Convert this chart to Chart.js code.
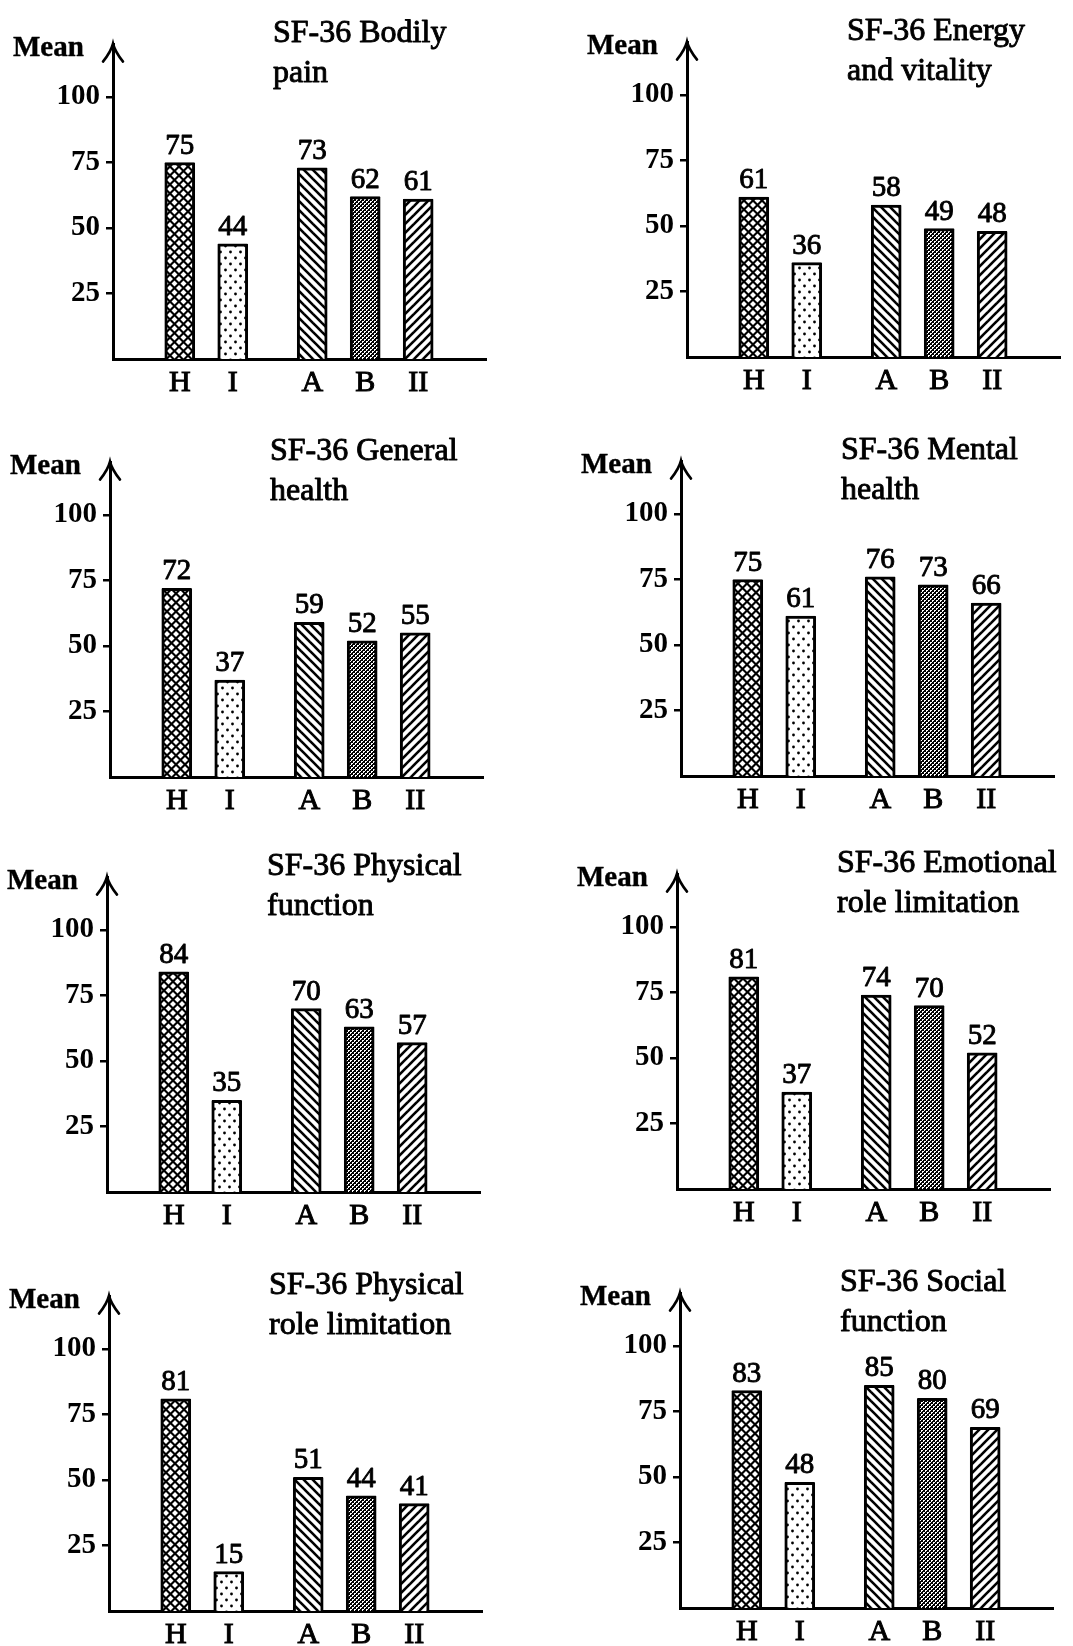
<!DOCTYPE html>
<html>
<head>
<meta charset="utf-8">
<script src="https://cdn.jsdelivr.net/npm/chart.js@4.4.1/dist/chart.umd.min.js"></script>
<style>
  html, body { margin: 0; padding: 0; background: #fff; }
  body { position: relative; width: 1073px; height: 1646px; overflow: hidden; }
  canvas { position: absolute; }
</style>
</head>
<body>
<script>
// groups on the x axis, and the y ticks
const groups = ["H", "I", "A", "B", "II"];
const yTicks = [25, 50, 75, 100];

// mean score per group, one array per SF-36 scale
const bodilyPain       = [75, 44, 73, 62, 61];
const energyVitality   = [61, 36, 58, 49, 48];
const generalHealth    = [72, 37, 59, 52, 55];
const mentalHealth     = [75, 61, 76, 73, 66];
const physicalFunction = [84, 35, 70, 63, 57];
const emotionalRole    = [81, 37, 74, 70, 52];
const physicalRole     = [81, 15, 51, 44, 41];
const socialFunction   = [83, 48, 85, 80, 69];

const panels = [
  { title: ["SF-36 Bodily", "pain"], values: bodilyPain },
  { title: ["SF-36 Energy", "and vitality"], values: energyVitality },
  { title: ["SF-36 General", "health"], values: generalHealth },
  { title: ["SF-36 Mental", "health"], values: mentalHealth },
  { title: ["SF-36 Physical", "function"], values: physicalFunction },
  { title: ["SF-36 Emotional", "role limitation"], values: emotionalRole },
  { title: ["SF-36 Physical", "role limitation"], values: physicalRole },
  { title: ["SF-36 Social", "function"], values: socialFunction },
];

// H, I | A, B, II : half a slot of extra space between the two groups
const slots = [0, 1, 2.5, 3.5, 4.5];

// where each panel's axis corner (y axis x, baseline y) sits on the page
const origins = [
  [113, 359], [687, 357],
  [110, 777], [681, 776],
  [107, 1192], [677, 1189],
  [109, 1611], [680, 1608],
];

const W = 500, H = 395;
const AXIS_LEFT = 105;   // canvas x of the y axis
const BASE = 350;        // canvas y of the x axis
const SERIF = '"Liberation Serif", "DejaVu Serif", serif';

function tile(ctx, w, h, draw) {
  const c = document.createElement("canvas");
  c.width = w; c.height = h;
  const g = c.getContext("2d");
  draw(g, w, h);
  return ctx.createPattern(c, "repeat");
}

function makePatterns(ctx) {
  // H: black with white diamonds (cross hatch)
  const cross = tile(ctx, 9, 9, (g, w, h) => {
    g.fillStyle = "#000"; g.fillRect(0, 0, w, h);
    g.fillStyle = "#fff";
    const r = 3.0;
    [[4.5, 4.5], [0, 0], [9, 0], [0, 9], [9, 9]].forEach(([cx, cy]) => {
      g.beginPath();
      g.moveTo(cx, cy - r); g.lineTo(cx + r, cy); g.lineTo(cx, cy + r); g.lineTo(cx - r, cy);
      g.closePath(); g.fill();
    });
  });
  // I: sparse dots
  const dots = tile(ctx, 10, 12, (g, w, h) => {
    g.fillStyle = "#fff"; g.fillRect(0, 0, w, h);
    g.fillStyle = "#000";
    [[2.5, 3], [7.5, 9]].forEach(([cx, cy]) => {
      g.beginPath(); g.arc(cx, cy, 1.4, 0, Math.PI * 2); g.fill();
    });
  });
  // A: "\" stripes, II: "/" stripes
  const stripe = (back) => tile(ctx, 9, 9, (g, w, h) => {
    g.fillStyle = "#fff"; g.fillRect(0, 0, w, h);
    g.strokeStyle = "#000"; g.lineWidth = 2.6;
    for (let k = -1; k <= 1; k++) {
      g.beginPath();
      if (back) { g.moveTo(k * w - 2, -2); g.lineTo(k * w + w + 2, h + 2); }
      else { g.moveTo(k * w - 2, h + 2); g.lineTo(k * w + w + 2, -2); }
      g.stroke();
    }
  });
  // B: fine checker stipple
  const fine = tile(ctx, 4, 4, (g, w, h) => {
    g.fillStyle = "#000"; g.fillRect(0, 0, w, h);
    g.fillStyle = "#fff";
    g.fillRect(2, 0, 2, 2);
    g.fillRect(0, 2, 2, 2);
    g.fillStyle = "#000";
    g.fillRect(3, 1, 1, 1);
    g.fillRect(1, 3, 1, 1);
  });
  return [cross, dots, stripe(true), fine, stripe(false)];
}

function heavyText(ctx, text, x, y, stroke) {
  ctx.lineWidth = stroke;
  ctx.strokeText(text, x, y);
  ctx.fillText(text, x, y);
}

function decor(panel) {
  return {
    id: "decor",
    afterDraw(chart) {
      const { ctx, chartArea: a } = chart;
      const x0 = a.left, yb = a.bottom, top = a.top;
      ctx.save();
      // arrow head on the y axis
      ctx.strokeStyle = "#000";
      ctx.lineWidth = 2.6;
      ctx.lineCap = "round";
      ctx.beginPath();
      ctx.moveTo(x0 - 10, top + 17);
      ctx.quadraticCurveTo(x0 - 2, top + 7, x0, top - 1);
      ctx.quadraticCurveTo(x0 + 2, top + 7, x0 + 10, top + 17);
      ctx.stroke();

      ctx.lineCap = "butt";
      ctx.lineJoin = "round";
      ctx.fillStyle = "#000";
      ctx.textAlign = "left";
      ctx.textBaseline = "middle";
      ctx.font = "bold 29px " + SERIF;
      heavyText(ctx, "Mean", x0 - 100, yb - 310, 0.4);

      ctx.font = "32px " + SERIF;
      panel.title.forEach((line, i) => heavyText(ctx, line, x0 + 160, yb - 325 + i * 40, 0.9));

      // value labels above the bars
      ctx.textAlign = "center";
      ctx.textBaseline = "alphabetic";
      ctx.font = "29px " + SERIF;
      chart.getDatasetMeta(0).data.forEach((bar, i) => {
        heavyText(ctx, String(panel.values[i]), bar.x, bar.y - 9, 0.9);
      });
      ctx.restore();
    },
  };
}

panels.forEach((panel, p) => {
  const canvas = document.createElement("canvas");
  canvas.width = W;
  canvas.height = H;
  canvas.style.left = (origins[p][0] - AXIS_LEFT) + "px";
  canvas.style.top = (origins[p][1] - BASE) + "px";
  document.body.appendChild(canvas);
  const ctx = canvas.getContext("2d");

  new Chart(ctx, {
    type: "bar",
    data: {
      datasets: [{
        data: panel.values.map((v, i) => ({ x: slots[i], y: v })),
        backgroundColor: makePatterns(ctx),
        borderColor: "#000",
        borderWidth: 3,
        borderRadius: 1,
        barThickness: 30,
      }],
    },
    options: {
      responsive: false,
      animation: false,
      events: [],
      layout: { padding: { top: BASE - 314.4, right: W - AXIS_LEFT - 373, bottom: 0, left: 0 } },
      plugins: { legend: { display: false }, tooltip: { enabled: false } },
      scales: {
        x: {
          type: "linear",
          min: -1.26,
          max: 5.78,
          offset: false,
          z: 1,
          afterBuildTicks: (s) => { s.ticks = slots.map((v) => ({ value: v })); },
          afterFit: (s) => { s.height = H - BASE; },
          grid: { display: false, drawTicks: false },
          border: { display: true, color: "#000", width: 3 },
          ticks: {
            autoSkip: false,
            maxRotation: 0,
            padding: 6,
            color: "#000",
            textStrokeColor: "#000",
            textStrokeWidth: 1,
            font: { family: SERIF, size: 30 },
            callback: (v, i) => groups[i],
          },
        },
        y: {
          min: 0,
          max: 120,
          z: 1,
          afterBuildTicks: (s) => { s.ticks = yTicks.map((v) => ({ value: v })); },
          afterFit: (s) => { s.width = AXIS_LEFT; },
          grid: { display: true, drawOnChartArea: false, drawTicks: true, tickLength: 7, lineWidth: 2.5, color: "#000" },
          border: { display: true, color: "#000", width: 3 },
          ticks: {
            padding: 6,
            color: "#000",
            font: { family: SERIF, size: 29, weight: "bold" },
          },
        },
      },
    },
    plugins: [decor(panel)],
  });
});
</script>
</body>
</html>
